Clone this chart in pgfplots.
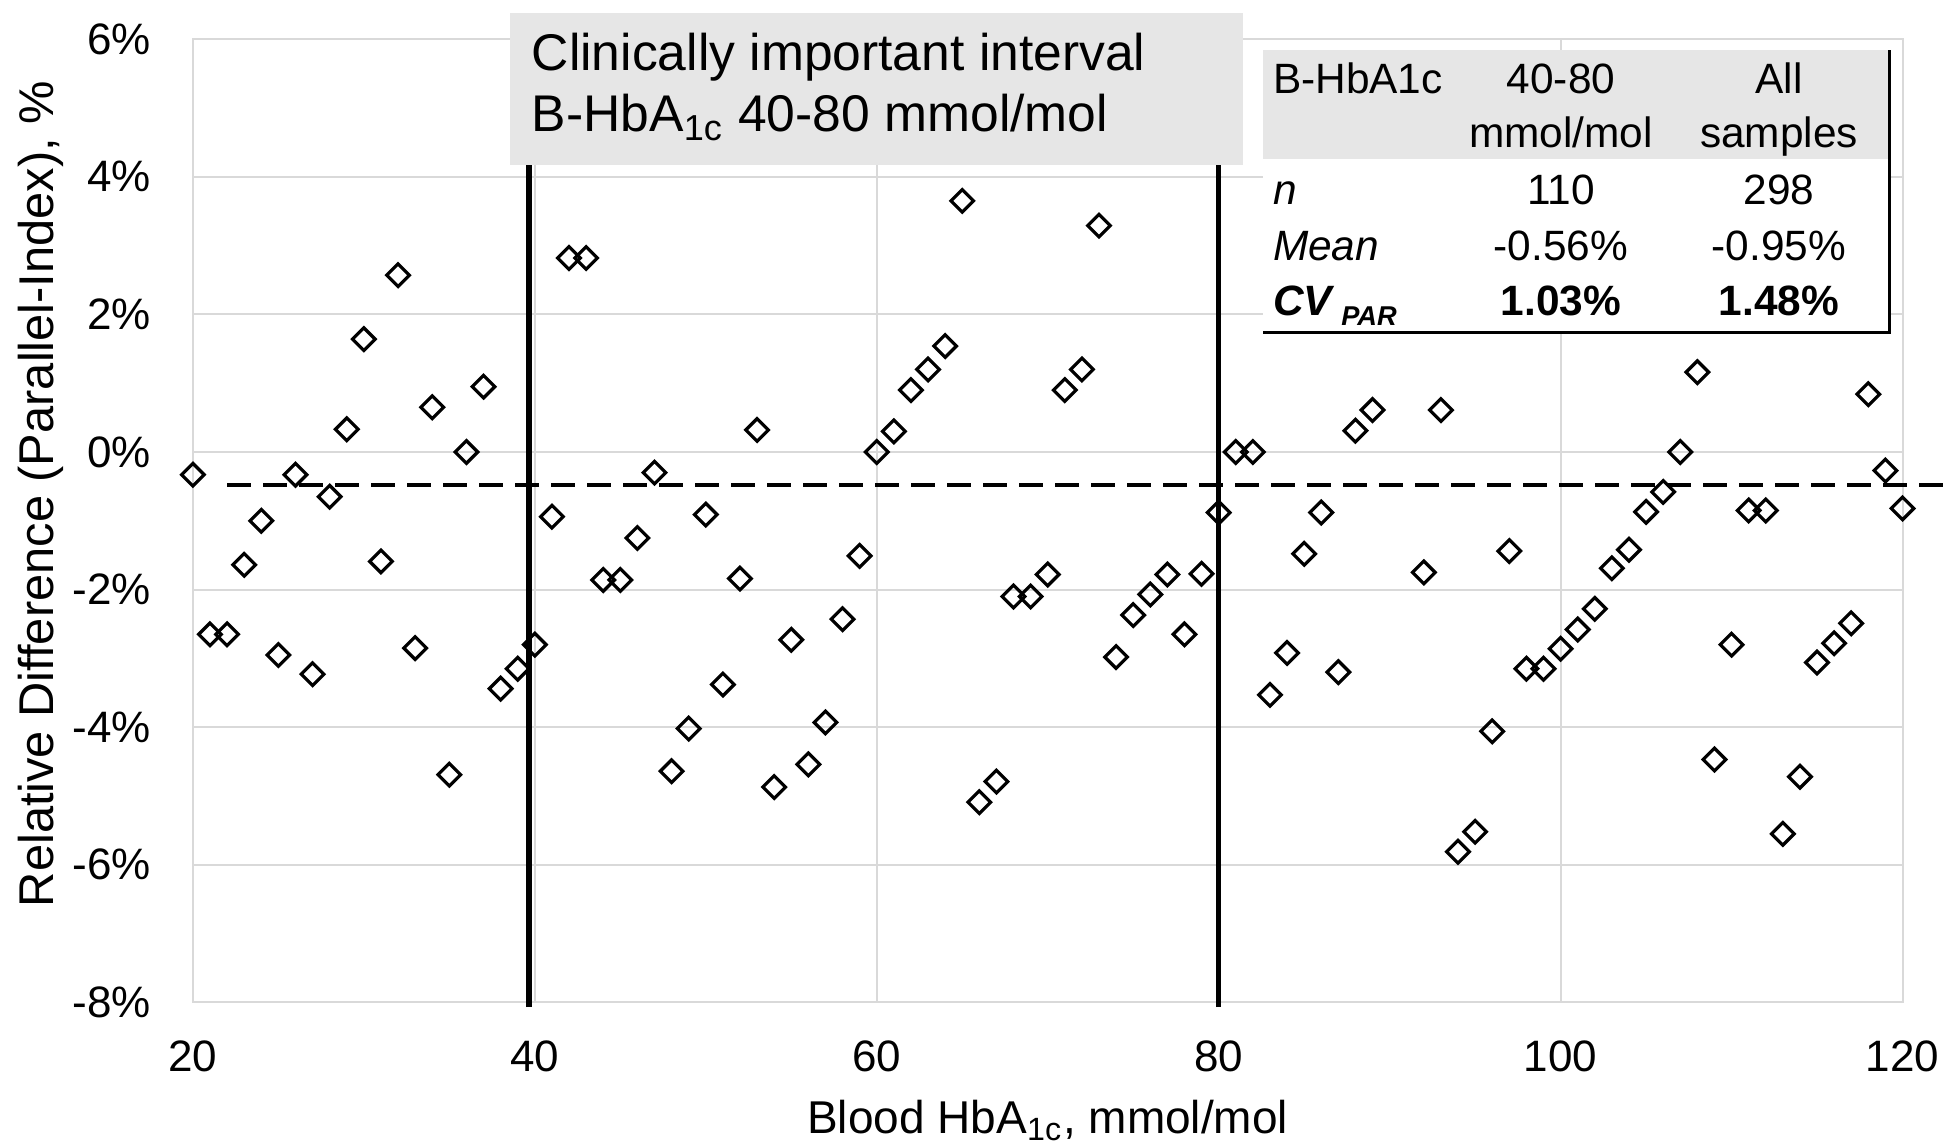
\documentclass[border=0pt]{standalone}
\usepackage{fontspec}
\setmainfont{Liberation Sans}
\usepackage{pgfplots}
\usepackage{pgfplotstable}
\pgfplotsset{compat=1.18}
\definecolor{gridgray}{HTML}{D9D9D9}
\definecolor{boxgray}{HTML}{E6E6E6}

\pgfplotstableread{
x y
20 -0.33
21 -2.65
22 -2.65
23 -1.64
24 -1.00
25 -2.95
26 -0.33
27 -3.23
28 -0.65
29 0.33
30 1.64
31 -1.59
32 2.57
33 -2.85
34 0.65
35 -4.69
36 0.00
37 0.95
38 -3.44
39 -3.15
40 -2.80
41 -0.94
42 2.82
43 2.82
44 -1.86
45 -1.86
46 -1.25
47 -0.30
48 -4.64
49 -4.02
50 -0.91
51 -3.38
52 -1.84
53 0.32
54 -4.87
55 -2.73
56 -4.54
57 -3.93
58 -2.43
59 -1.51
60 0.00
61 0.30
62 0.90
63 1.20
64 1.54
65 3.65
66 -5.09
67 -4.79
68 -2.10
69 -2.10
70 -1.78
71 0.90
72 1.20
73 3.29
74 -2.98
75 -2.37
76 -2.07
77 -1.78
78 -2.65
79 -1.77
80 -0.88
81 0.00
82 0.00
83 -3.53
84 -2.92
85 -1.48
86 -0.88
87 -3.20
88 0.31
89 0.61
92 -1.75
93 0.61
94 -5.81
95 -5.52
96 -4.06
97 -1.44
98 -3.15
99 -3.15
100 -2.86
101 -2.58
102 -2.28
103 -1.69
104 -1.42
105 -0.87
106 -0.58
107 0.00
108 1.16
109 -4.47
110 -2.80
111 -0.85
112 -0.85
113 -5.55
114 -4.72
115 -3.06
116 -2.78
117 -2.49
118 0.84
119 -0.27
120 -0.82
}\datatable

\begin{document}
\begin{tikzpicture}
\begin{axis}[
  at={(0,0)}, anchor=south west,
  scale only axis, width=427.4pt, height=240.8pt,
  xmin=20, xmax=120, ymin=-8, ymax=6,
  xtick={20,40,60,80,100,120}, ytick={-8,-6,-4,-2,0,2,4,6},
  xticklabels={20,40,60,80,100,120},
  yticklabels={-8\%,-6\%,-4\%,-2\%,0\%,2\%,4\%,6\%},
  grid=major, major grid style={draw=gridgray, line width=0.5pt},
  axis line style={draw=gridgray, line width=0.5pt},
  major tick length=0pt, tick style={draw=none},
  ticklabel style={font=\fontsize{11}{13}\selectfont},
  xticklabel style={inner sep=0pt, anchor=north, yshift=-9.3pt},
  yticklabel style={inner sep=0pt, anchor=east, xshift=-10.25pt},
  clip=false,
]
\addplot[only marks, mark=square, mark size=2pt,
  mark options={rotate=45, line width=0.8pt, draw=black, fill=none}]
  table[x=x, y=y] {\datatable};
\draw[black, line width=1.4pt] (axis cs:39.65,-8.07) -- (axis cs:39.65,4.18);
\draw[black, line width=1.4pt] (axis cs:80,-8.07) -- (axis cs:80,4.18);
\draw[black, line width=1pt, dash pattern=on 6pt off 3pt] (axis cs:22,-0.48) -- (axis cs:122.5,-0.48);
\end{axis}
\begin{scope}[xshift=-48.225pt, yshift=250.6pt, x=0.25pt, y=-0.25pt]
  % clinically important interval box
  \fill[boxgray] (510,13.4) rectangle (1243,164.6);
  \node[anchor=base west, inner sep=0pt, font=\fontsize{12.9}{15}\selectfont] at (531,70.8) {Clinically important interval};
  \node[anchor=base west, inner sep=0pt, font=\fontsize{12.9}{15}\selectfont] at (531,132) {B-HbA\textsubscript{1c} 40-80 mmol/mol};
  % table
  \fill[white] (1263.3,49.8) rectangle (1889.2,333);
  \fill[boxgray] (1263.3,49.8) rectangle (1889.2,158.8);
  \draw[black, line width=0.75pt] (1263.3,333) -- (1889.2,333) -- (1889.2,49.8);
  \begin{scope}[every node/.style={inner sep=0pt, font=\fontsize{10.6}{12}\selectfont}]
    \node[anchor=base west] at (1272.2,93.8) {B-HbA1c};
    \node[anchor=base] at (1561,93.8) {40-80};
    \node[anchor=base] at (1779,93.8) {All};
    \node[anchor=base] at (1561,147.3) {mmol/mol};
    \node[anchor=base] at (1779,147.3) {samples};
    \node[anchor=base west] at (1272.2,204.7) {\textit{n}};
    \node[anchor=base] at (1561,204.7) {110};
    \node[anchor=base] at (1779,204.7) {298};
    \node[anchor=base west] at (1272.2,260.2) {\textit{Mean}};
    \node[anchor=base] at (1561,260.2) {-0.56\%};
    \node[anchor=base] at (1779,260.2) {-0.95\%};
    \node[anchor=base west] at (1272.2,315.7) {\textbf{\textit{CV}}\kern1.6pt\raisebox{-2.4pt}{\fontsize{6.8}{8}\selectfont\bfseries\itshape PAR}};
    \node[anchor=base] at (1561,315.7) {\textbf{1.03\%}};
    \node[anchor=base] at (1779,315.7) {\textbf{1.48\%}};
  \end{scope}
  % axis labels
  \node[anchor=base, inner sep=0pt, font=\fontsize{11.5}{14}\selectfont] at (1047.7,1133) {Blood HbA\textsubscript{1c}, mmol/mol};
  \node[anchor=base, inner sep=0pt, rotate=90, font=\fontsize{12.2}{14}\selectfont] at (53.6,494) {Relative Difference (Parallel-Index), \%};
\end{scope}
\pgfresetboundingbox
\path[use as bounding box] (-48.225pt,-35.65pt) rectangle (438.275pt,250.6pt);
\end{tikzpicture}
\end{document}
